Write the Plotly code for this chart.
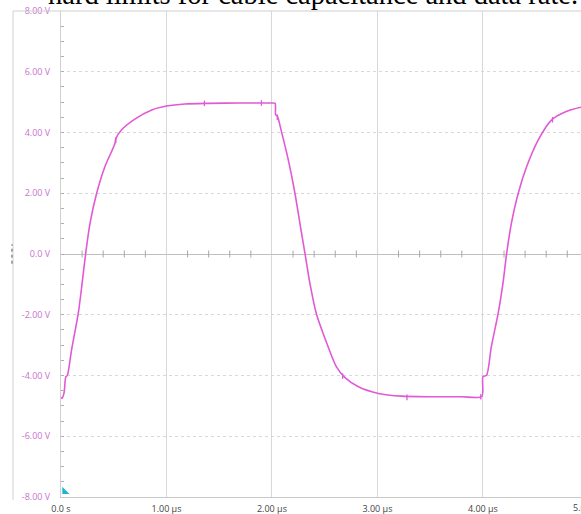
import plotly.graph_objects as go

# Waveform (time in µs, voltage in V)
t_us = [0.0, 0.01, 0.03, 0.045, 0.06, 0.10, 0.164, 0.20, 0.234, 0.275, 0.338, 0.417,
        0.51, 0.52, 0.575, 0.70, 0.86, 1.0, 1.175, 1.4, 1.7, 2.0, 2.03, 2.035, 2.05,
        2.09, 2.155, 2.218, 2.265, 2.313, 2.36, 2.42, 2.52, 2.61, 2.69, 2.82, 3.01,
        3.23, 3.5, 3.8, 3.99, 4.0, 4.035, 4.08, 4.145, 4.19, 4.225, 4.27, 4.335,
        4.415, 4.525, 4.65, 4.79, 4.93, 5.0]
v_volts = [-4.72, -4.75, -4.55, -4.05, -4.0, -3.16, -1.95, -0.97, 0.02, 1.01, 2.0, 2.88,
           3.62, 3.8, 4.09, 4.44, 4.74, 4.87, 4.94, 4.96, 4.97, 4.97, 4.96, 4.58, 4.55,
           4.03, 3.1, 2.0, 1.01, 0.02, -0.97, -1.95, -2.94, -3.71, -4.06, -4.37, -4.59,
           -4.68, -4.70, -4.70, -4.69, -4.04, -3.99, -3.05, -1.95, -0.97, 0.02, 1.01, 2.0,
           2.88, 3.76, 4.41, 4.69, 4.83, 4.87]

# small spur marks seen on the trace
spur_t = [0.52, 1.36, 1.9, 2.05, 2.67, 3.28, 3.98, 4.66]
spur_v = [3.75, 4.96, 4.97, 4.5, -4.02, -4.72, -4.70, 4.42]

y_ticks = [8, 6, 4, 2, 0, -2, -4, -6, -8]
y_labels = ["8.00 V", "6.00 V", "4.00 V", "2.00 V", "0.0 V", "-2.00 V", "-4.00 V", "-6.00 V", "-8.00 V"]
x_ticks = [0, 1, 2, 3, 4]
x_labels = ["0.0 s", "1.00 µs", "2.00 µs", "3.00 µs", "4.00 µs"]
minor_x = [0.2, 0.4, 0.6, 0.8, 1.2, 1.4, 1.6, 1.8, 2.2, 2.4, 2.6, 2.8, 3.2, 3.4, 3.6, 3.8, 4.2, 4.4, 4.6, 4.8]

TRACE = "#e05ad6"
LABEL = "#c872cf"
GRID = "#d8d8d8"

fig = go.Figure()
fig.add_trace(go.Scatter(x=t_us, y=v_volts, mode="lines",
                         line=dict(color=TRACE, width=1.6, shape="spline", smoothing=0.7),
                         hoverinfo="skip"))
fig.add_trace(go.Scatter(x=spur_t, y=spur_v, mode="markers",
                         marker=dict(symbol="line-ns", size=4, line=dict(color=TRACE, width=1.3)),
                         hoverinfo="skip"))
# tick marks along the 0 V line
fig.add_trace(go.Scatter(x=minor_x, y=[0] * len(minor_x), mode="markers",
                         marker=dict(symbol="line-ns", size=5, line=dict(color="#a8a8a8", width=1)),
                         hoverinfo="skip"))
# trigger marker
fig.add_trace(go.Scatter(x=[0.035], y=[-7.82], mode="markers", cliponaxis=False,
                         marker=dict(symbol="triangle-sw", size=8, color="#1eb4d4"),
                         hoverinfo="skip"))

fig.update_layout(
    width=581, height=514,
    margin=dict(l=61, r=0, t=11, b=17),
    paper_bgcolor="white", plot_bgcolor="white",
    showlegend=False,
    font=dict(family="Open Sans, Segoe UI, sans-serif", size=9),
    xaxis=dict(range=[0, 4.93], tickvals=x_ticks, ticktext=x_labels,
               tickfont=dict(color="#444444", size=9), ticks="", ticklabelstandoff=3,
               showgrid=True, gridcolor=GRID, gridwidth=1,
               showline=True, linecolor="#c8c8c8", linewidth=1, mirror=False,
               zeroline=False, fixedrange=True, automargin=False),
    yaxis=dict(range=[-8, 8], tickvals=y_ticks, ticktext=y_labels,
               tickfont=dict(color=LABEL, size=9), ticks="inside", ticklen=3, tickcolor="#b0b0b0",
               ticklabelstandoff=8,
               minor=dict(dtick=0.5, ticks="inside", ticklen=3, tickcolor="#b0b0b0", showgrid=False),
               showgrid=True, gridcolor=GRID, gridwidth=1, griddash="dot",
               showline=True, linecolor="#d0d0d0", linewidth=1,
               zeroline=True, zerolinecolor="#c0c0c0", zerolinewidth=1, fixedrange=True,
               automargin=False),
)

# outer frame of the scope window
fig.add_shape(type="line", xref="paper", yref="paper", x0=-0.0923, x1=1.0, y0=1, y1=1,
              line=dict(color="#cfcfcf", width=1))
fig.add_shape(type="line", xref="paper", yref="paper", x0=-0.0923, x1=-0.0923, y0=-0.006, y1=1,
              line=dict(color="#d0d0d0", width=1))
fig.add_shape(type="line", xref="paper", yref="paper", x0=-0.0943, x1=-0.0943, y0=0.48, y1=0.52,
              line=dict(color="#555555", width=1, dash="dot"))

# cut-off 5.00 µs label at the right edge
fig.add_annotation(x=(588 - 61) / 520, y=0, xref="paper", yref="paper", text="5.00 µs",
                   showarrow=False, xanchor="center", yanchor="top", yshift=-2,
                   font=dict(color="#444444", size=9))

# page text cut off at the top
fig.add_annotation(x=(46 - 61) / 520, y=1, xref="paper", yref="paper",
                   text="hard limits for cable capacitance and data rate.",
                   showarrow=False, xanchor="left", yanchor="bottom", yshift=-1,
                   font=dict(family="Liberation Serif, Times New Roman, serif", size=28.5, color="black"))

fig.write_html("out.html", config={"displayModeBar": False},
               post_script="document.body.style.margin='0';document.body.style.overflow='hidden';")
